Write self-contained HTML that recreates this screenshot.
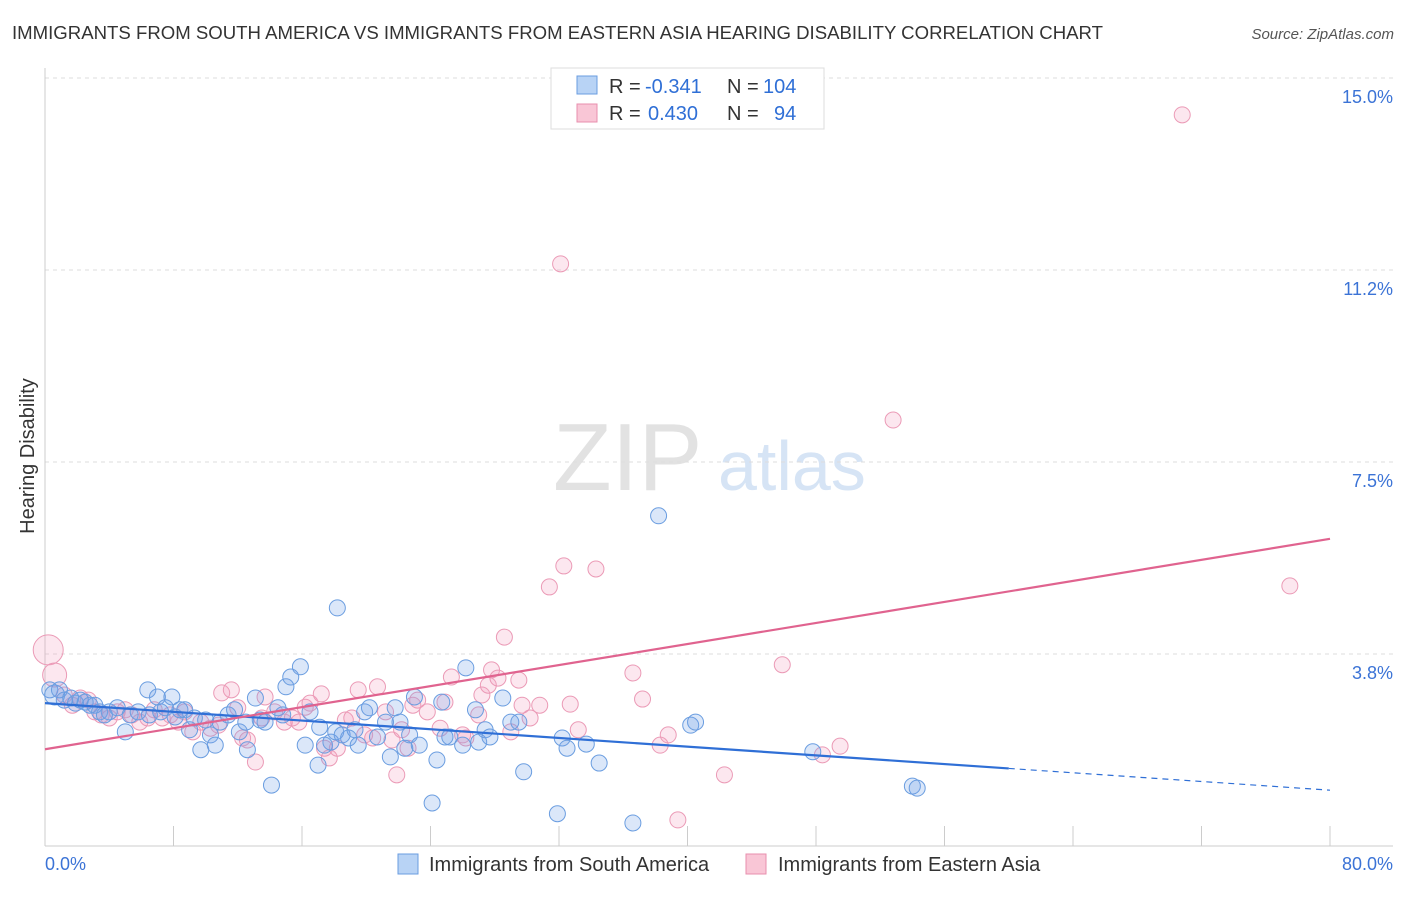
<!DOCTYPE html>
<html><head><meta charset="utf-8"><style>
body{margin:0;background:#fff;font-family:"Liberation Sans",sans-serif;}
svg text{font-family:"Liberation Sans",sans-serif;}
</style></head><body>
<svg id="c" width="1406" height="892" xmlns="http://www.w3.org/2000/svg">
<text x="12" y="39" font-size="18.6" fill="#333">IMMIGRANTS FROM SOUTH AMERICA VS IMMIGRANTS FROM EASTERN ASIA HEARING DISABILITY CORRELATION CHART</text>
<text x="1394" y="39" font-size="15" fill="#555" text-anchor="end" font-style="italic">Source: ZipAtlas.com</text>
<text x="553" y="490" font-size="96" fill="#e2e2e2" font-family="Liberation Serif">ZIP</text>
<text x="718" y="490" font-size="70" fill="#d6e4f5">atlas</text>
<text transform="translate(34,456) rotate(-90)" font-size="20" fill="#333" text-anchor="middle">Hearing Disability</text>
<g id="grid"></g><g id="pts"></g><g id="lines"></g>
<g>
<rect x="551" y="68" width="273" height="61" fill="#fff" stroke="#ddd"/>
<rect x="577" y="76" width="20" height="18" fill="#b8d3f5" stroke="#6a9de0"/>
<rect x="577" y="104" width="20" height="18" fill="#f9c6d6" stroke="#e88fae"/>
<text x="609" y="93" font-size="20" fill="#333">R =</text>
<text x="645" y="93" font-size="20" fill="#2f6fd6">-0.341</text>
<text x="727" y="93" font-size="20" fill="#333">N =</text>
<text x="763" y="93" font-size="20" fill="#2f6fd6">104</text>
<text x="609" y="120" font-size="20" fill="#333">R =</text>
<text x="648" y="120" font-size="20" fill="#2f6fd6">0.430</text>
<text x="727" y="120" font-size="20" fill="#333">N =</text>
<text x="774" y="120" font-size="20" fill="#2f6fd6">94</text>
</g>
<g>
<rect x="398" y="854" width="20" height="20" fill="#b8d3f5" stroke="#6a9de0"/>
<text x="429" y="871" font-size="20" fill="#333">Immigrants from South America</text>
<rect x="746" y="854" width="20" height="20" fill="#f9c6d6" stroke="#e88fae"/>
<text x="778" y="871" font-size="20" fill="#333">Immigrants from Eastern Asia</text>
</g>
</svg>
<script>
const yTicks=[15.0,11.25,7.5,3.75];
const yTickLabels=["15.0%","11.2%","7.5%","3.8%"];
const xTicks=[0,8,16,24,32,40,48,56,64,72,80];
const blueX=[0.3,0.6,0.9,1.2,1.6,1.9,2.2,2.5,2.8,3.1,3.4,3.7,4.0,4.5,5.0,5.3,5.8,6.4,6.5,7.0,7.2,7.5,7.9,8.1,8.4,8.7,9.0,9.3,9.7,10.0,10.3,10.6,10.9,11.4,11.8,12.1,12.5,12.6,13.1,13.4,13.7,14.1,14.5,14.8,15.0,15.3,15.9,16.2,16.5,17.0,17.1,17.4,17.8,18.1,18.2,18.5,18.9,19.3,19.5,19.9,20.2,20.7,21.2,21.5,21.8,22.1,22.4,22.7,23.0,23.3,24.1,24.4,24.7,24.9,25.2,26.0,26.2,26.8,27.0,27.4,27.7,28.5,29.0,29.5,29.8,31.9,32.2,32.5,33.7,34.5,36.6,38.2,40.2,40.5,47.8,54.0,54.3];
const blueY=[3.05,2.95,3.05,2.85,2.89,2.79,2.85,2.81,2.75,2.75,2.62,2.56,2.62,2.70,2.23,2.56,2.62,3.05,2.56,2.91,2.62,2.70,2.91,2.52,2.66,2.66,2.27,2.50,1.88,2.46,2.17,1.97,2.42,2.56,2.66,2.23,2.42,1.88,2.89,2.46,2.42,1.19,2.70,2.56,3.11,3.30,3.50,1.97,2.62,1.58,2.32,1.97,2.03,2.23,4.65,2.17,2.11,2.27,1.97,2.62,2.70,2.13,2.42,1.74,2.70,2.42,1.91,2.17,2.91,1.97,0.84,1.68,2.81,2.13,2.13,1.97,3.48,2.66,2.03,2.27,2.13,2.89,2.42,2.42,1.45,0.63,2.11,1.91,1.99,1.62,0.45,6.45,2.36,2.42,1.84,1.17,1.13];
const pinkX=[0.2,0.6,1.2,1.7,2.2,2.7,3.1,3.5,4.0,4.5,5.0,5.4,5.9,6.4,6.8,7.3,7.8,8.3,8.7,9.2,9.7,10.3,10.8,11.0,11.6,12.0,12.3,12.6,13.1,13.5,13.7,14.3,14.9,15.4,15.8,16.2,16.5,17.2,17.4,17.7,18.2,18.7,19.1,19.5,19.9,20.4,20.7,21.2,21.6,21.9,22.2,22.6,22.9,23.2,23.8,24.6,24.9,25.3,26.0,26.2,27.0,27.2,27.6,27.8,28.2,28.6,29.0,29.5,29.7,30.2,30.8,31.4,32.1,32.3,32.7,33.2,34.3,36.6,37.2,38.3,38.8,39.4,42.3,45.9,48.4,49.5,52.8,70.8,77.5];
const pinkY=[3.83,3.34,2.95,2.75,2.89,2.85,2.62,2.56,2.50,2.62,2.66,2.56,2.42,2.50,2.66,2.50,2.56,2.42,2.62,2.23,2.42,2.30,2.36,2.99,3.05,2.70,2.11,2.07,1.64,2.50,2.91,2.62,2.42,2.50,2.42,2.71,2.79,2.97,1.91,1.72,1.91,2.46,2.50,3.05,2.17,2.11,3.11,2.62,2.07,1.39,2.27,1.91,2.75,2.85,2.62,2.30,2.81,3.30,2.17,2.11,2.56,2.95,3.14,3.44,3.28,4.08,2.23,3.24,2.75,2.50,2.75,5.06,11.37,5.47,2.77,2.27,5.41,3.38,2.87,1.97,2.17,0.51,1.39,3.54,1.78,1.95,8.32,14.28,5.08];
const blueTrend=[2.79,1.09];
const pinkTrend=[1.89,6.0];
const NS="http://www.w3.org/2000/svg";
const X=v=>45+v*(1330-45)/80;
const Y=v=>846-v*51.2;
function mk(t,a,p){const e=document.createElementNS(NS,t);for(const k in a)e.setAttribute(k,a[k]);p.appendChild(e);return e;}
const grid=document.getElementById('grid');
yTicks.forEach((t,i)=>{
 const l=mk('line',{x1:45,x2:1393,y1:Y(t),y2:Y(t),stroke:'#ddd','stroke-dasharray':'4,4'},grid);
 
 
 const tx=mk('text',{x:1393,y:Y(t)+25,'font-size':18,fill:'#3b73d6','text-anchor':'end'},grid);
 tx.textContent=yTickLabels[i];
 
 
});
const ax=mk('line',{x1:45,x2:45,y1:68,y2:846,stroke:'#ccc'},grid);


const bx=mk('line',{x1:45,x2:1393,y1:846,y2:846,stroke:'#ccc'},grid);


xTicks.forEach(t=>{const l=mk('line',{x1:X(t),x2:X(t),y1:826,y2:846,stroke:'#ccc'},grid);
 
 });
const x0=mk('text',{x:45,y:870,'font-size':18,fill:'#3b73d6'},grid);x0.textContent="0.0%";


const x1=mk('text',{x:1393,y:870,'font-size':18,fill:'#3b73d6','text-anchor':'end'},grid);x1.textContent="80.0%";


const pts=document.getElementById('pts');
pinkX.forEach((v,i)=>{const r=i==0?15:(i==1?12:8);
 const c=mk('circle',{cx:X(v),cy:Y(pinkY[i]),r:r,fill:'rgba(243,160,190,0.25)',stroke:'#eb9ab6','stroke-width':1},pts);
 
 });
blueX.forEach((v,i)=>{const r=i==1?10:8;
 const c=mk('circle',{cx:X(v),cy:Y(blueY[i]),r:r,fill:'rgba(110,160,230,0.25)',stroke:'#6a9de0','stroke-width':1},pts);
 
 });
const lines=document.getElementById('lines');
const bAt=x=>blueTrend[0]+(blueTrend[1]-blueTrend[0])*x/80;
const l1=mk('line',{x1:X(0),y1:Y(bAt(0)),x2:X(60),y2:Y(bAt(60)),stroke:'#2f6fd6','stroke-width':2.2},lines);


const l2=mk('line',{x1:X(60),y1:Y(bAt(60)),x2:X(80),y2:Y(bAt(80)),stroke:'#2f6fd6','stroke-width':1.2,'stroke-dasharray':'6,5'},lines);


const l3=mk('line',{x1:X(0),y1:Y(pinkTrend[0]),x2:X(80),y2:Y(pinkTrend[1]),stroke:'#e0638f','stroke-width':2.2},lines);


</script>
</body></html>
